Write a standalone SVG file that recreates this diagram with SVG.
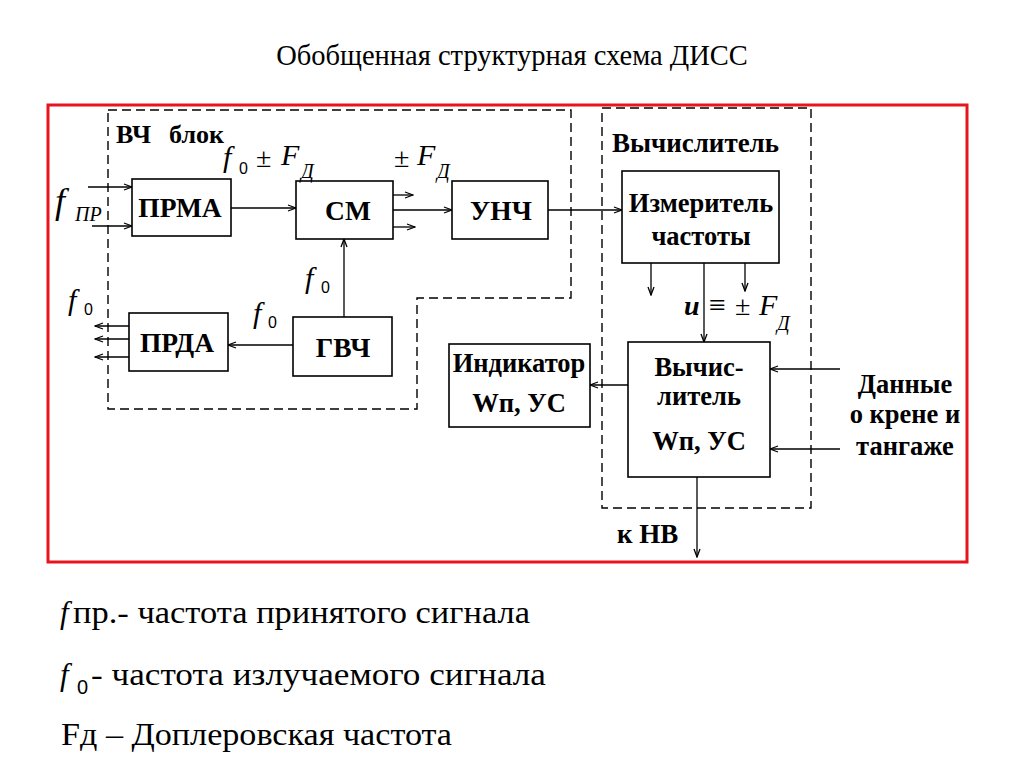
<svg xmlns="http://www.w3.org/2000/svg" width="1024" height="767" viewBox="0 0 1024 767">
<defs>
<marker id="arr" markerWidth="10" markerHeight="8" refX="9" refY="4" orient="auto" markerUnits="userSpaceOnUse">
<path d="M1,1 L9,4 L1,7" fill="none" stroke="#000" stroke-width="1.3"/>
</marker>
<style>
.box{fill:#fff;stroke:#000;stroke-width:1.6}
.dash{fill:none;stroke:#000;stroke-width:1.4;stroke-dasharray:9 5}
.la{fill:none;stroke:#000;stroke-width:1.3;marker-end:url(#arr)}
</style>
</defs>
<rect width="1024" height="767" fill="#fff"/>
<g font-family="Liberation Serif, Times New Roman, serif" fill="#000">
<text x="512" y="65" font-size="28.5" text-anchor="middle">Обобщенная структурная схема ДИСС</text>
<rect x="48" y="105" width="919" height="457" fill="none" stroke="#e8141c" stroke-width="3"/>

<g id="vch-block">
<path class="dash" d="M108,110 H571 V298 H417 V409 H108 Z"/>
<text font-weight="bold" x="116" y="143" font-size="26">ВЧ</text>
<text font-weight="bold" x="224" y="143" font-size="26" text-anchor="end">блок</text>
</g>
<g id="calc-block">
<rect class="dash" x="602" y="108" width="209" height="400"/>
<text font-weight="bold" x="612" y="152" font-size="26.5" textLength="167" lengthAdjust="spacingAndGlyphs">Вычислитель</text>
</g>

<g id="connectors">
<line class="la" x1="88" y1="187" x2="132" y2="187"/>
<line class="la" x1="92" y1="226" x2="132" y2="226"/>
<line class="la" x1="231" y1="208" x2="296" y2="208"/>
<line class="la" x1="393" y1="195" x2="413" y2="195"/>
<line class="la" x1="393" y1="210" x2="452" y2="210"/>
<line class="la" x1="393" y1="227" x2="415" y2="227"/>
<line class="la" x1="548" y1="210" x2="622" y2="210"/>
<line class="la" x1="344" y1="317" x2="344" y2="239"/>
<line class="la" x1="293" y1="345" x2="228" y2="345"/>
<line class="la" x1="129" y1="326" x2="95" y2="326"/>
<line class="la" x1="129" y1="339" x2="95" y2="339"/>
<line class="la" x1="129" y1="357" x2="95" y2="357"/>
<line class="la" x1="651" y1="263" x2="651" y2="295"/>
<line class="la" x1="704" y1="263" x2="704" y2="342"/>
<line class="la" x1="745" y1="263" x2="745" y2="291"/>
<line class="la" x1="628" y1="385" x2="590" y2="385"/>
<line class="la" x1="840" y1="369" x2="770" y2="369"/>
<line class="la" x1="840" y1="449" x2="770" y2="449"/>
<line class="la" x1="697" y1="477" x2="697" y2="557"/>
</g>

<g font-weight="bold" text-anchor="middle">
<g id="prma"><rect class="box" x="132" y="179" width="99" height="57"/><text x="180" y="217" font-size="27.5">ПРМА</text></g>
<g id="sm"><rect class="box" x="296" y="181" width="97" height="58"/><text x="348" y="220" font-size="27.5">СМ</text></g>
<g id="unch"><rect class="box" x="452" y="181" width="96" height="58"/><text x="501" y="220" font-size="27.5">УНЧ</text></g>
<g id="prda"><rect class="box" x="129" y="313" width="99" height="58"/><text x="177" y="352" font-size="27.5">ПРДА</text></g>
<g id="gvch"><rect class="box" x="293" y="317" width="99" height="59"/><text x="343" y="357" font-size="27.5">ГВЧ</text></g>
<g id="izmer"><rect class="box" x="622" y="171" width="157" height="92"/><text x="701" y="212" font-size="26.5">Измеритель</text><text x="701" y="245" font-size="26.5">частоты</text></g>
<g id="vychisl"><rect class="box" x="628" y="342" width="142" height="135"/><text x="699" y="376" font-size="26.5">Вычис-</text><text x="699" y="405" font-size="26.5">литель</text><text x="699" y="450" font-size="26.5">Wп,  УС</text></g>
<g id="indikator"><rect class="box" x="449" y="344" width="141" height="83"/><text x="519" y="372" font-size="26.5">Индикатор</text><text x="519" y="412" font-size="26.5">Wп,  УС</text></g>
<g id="dannye"><text x="905" y="393" font-size="26.5">Данные</text><text x="905" y="423" font-size="26.5">о крене и</text><text x="905" y="455" font-size="26.5">тангаже</text></g>
</g>
<g id="knv"><text font-weight="bold" x="617" y="543" font-size="27">к НВ</text></g>

<g id="labels" font-style="italic">
<text x="55" y="213" font-size="36">f</text><text x="75" y="221" font-size="20">ПР</text>
<text x="223" y="167" font-size="30">f</text><text font-family="Liberation Sans, Arial, sans-serif" font-style="normal" x="239" y="174" font-size="16">0</text>
<text font-style="normal" x="256" y="167" font-size="28">±</text>
<text x="281" y="165" font-size="30">F</text><text x="301" y="178" font-size="20">Д</text>
<text font-style="normal" x="394" y="167" font-size="28">±</text>
<text x="417" y="165" font-size="30">F</text><text x="437" y="178" font-size="20">Д</text>
<text x="305" y="288" font-size="30">f</text><text font-family="Liberation Sans, Arial, sans-serif" font-style="normal" x="321" y="293" font-size="16">0</text>
<text x="253" y="323" font-size="30">f</text><text font-family="Liberation Sans, Arial, sans-serif" font-style="normal" x="268" y="328" font-size="16">0</text>
<text x="68" y="310" font-size="30">f</text><text font-family="Liberation Sans, Arial, sans-serif" font-style="normal" x="84" y="315" font-size="16">0</text>
<text font-weight="bold" x="684" y="315" font-size="28">и</text>
<text font-style="normal" x="709" y="315" font-size="30">≡</text>
<text font-style="normal" x="735" y="315" font-size="28">±</text>
<text x="759" y="315" font-size="30">F</text><text x="777" y="330" font-size="20">Д</text>
</g>

<g id="legend" font-size="31">
<text font-style="italic" x="60" y="623">f</text><text x="73" y="623" textLength="457" lengthAdjust="spacingAndGlyphs">пр.- частота принятого сигнала</text>
<text font-style="italic" x="60" y="685">f</text><text font-family="Liberation Sans, Arial, sans-serif" x="77" y="694" font-size="20">0</text><text x="91" y="685" textLength="455" lengthAdjust="spacingAndGlyphs">-  частота излучаемого сигнала</text>
<text x="61" y="745" textLength="391" lengthAdjust="spacingAndGlyphs">Fд – Доплеровская частота</text>
</g>
</g>
</svg>
